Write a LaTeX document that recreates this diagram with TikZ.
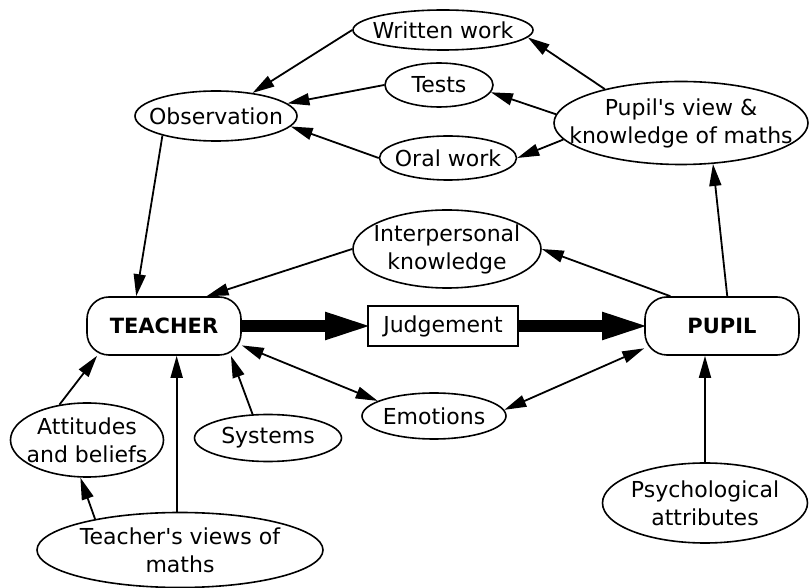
\documentclass[tikz,border=0pt]{standalone}
\usepackage{fontspec}
\setmainfont{DejaVu Sans}
\usepackage{tikz}
\usetikzlibrary{shapes.geometric,arrows.meta}

\begin{document}
\begin{tikzpicture}[x=0.5pt, y=-0.5pt,
  every node/.style={font=\fontsize{11}{14}\selectfont},
  bubble/.style={ellipse, draw, line width=0.8pt, inner xsep=-20pt, inner ysep=-10pt, align=center},
  actor/.style={draw, line width=0.8pt, rounded corners=11pt, minimum width=77pt, minimum height=29pt, font=\fontsize{10.5}{12}\selectfont\bfseries},
  link/.style={-{Triangle[length=11pt, width=6pt]}, line width=0.9pt},
  twoway/.style={{Triangle[length=11pt, width=6pt]}-{Triangle[length=11pt, width=6pt]}, line width=0.9pt},
  biglink/.style={-{Triangle[length=25pt, width=12pt]}, line width=6pt, shorten >=-4pt}]

  \useasboundingbox (0,0) rectangle (810,588);

  % ========== Main row: teacher -- judgement -- pupil ==========
  \node[actor] (teacher) at (164,326) {TEACHER};
  \node[draw, line width=0.8pt, minimum width=75pt, minimum height=20pt] (judge) at (443,326) {Judgement};
  \node[actor] (pupil) at (722,326) {PUPIL};

  % ========== Assessment sources (top) ==========
  \node[bubble, minimum width=90pt, minimum height=20pt] (written) at (443,30) {Written work};
  \node[bubble, minimum width=54pt, minimum height=22pt] (tests) at (439,85) {Tests};
  \node[bubble, minimum width=68.5pt, minimum height=22pt] (oral) at (448,158) {Oral work};
  \node[bubble, minimum width=81pt, minimum height=25pt] (obs) at (216,116) {Observation};
  \node[bubble, minimum width=127pt, minimum height=41.5pt] (pview) at (681,123) {Pupil\textquotesingle s view \&\\knowledge of maths};
  \node[bubble, minimum width=94pt, minimum height=39pt] (interp) at (447,249) {Interpersonal\\knowledge};

  % ========== Influences (bottom) ==========
  \node[bubble, minimum width=72pt, minimum height=23pt] (emot) at (434,416) {Emotions};
  \node[bubble, minimum width=76.5pt, minimum height=37pt] (attit) at (87,440) {Attitudes\\and beliefs};
  \node[bubble, minimum width=73.5pt, minimum height=23.5pt] (systems) at (268,438) {Systems};
  \node[bubble, minimum width=143pt, minimum height=37.5pt] (tviews) at (180,550) {Teacher\textquotesingle s views of\\maths};
  \node[bubble, minimum width=102.5pt, minimum height=40pt] (psych) at (705,503) {Psychological\\attributes};

  % --- judgement arrows ---
  \draw[biglink] (teacher.east) -- (judge.west);
  \draw[biglink] (judge.east) -- (pupil.west);

  % --- into observation ---
  \draw[link] (written.west) -- (obs);
  \draw[link] (tests.west) -- (obs.10);
  \draw[link] (oral.west) -- (obs.-8);
  \draw[link] (obs.200) -- (teacher.133);

  % --- pupil side ---
  \draw[link] (pview.156) -- (written.-5);
  \draw[link] (pview.176) -- (tests.-8);
  \draw[link] (pview.188) -- (oral.east);
  \draw[link] (pupil.80) -- (pview.-52);
  \draw[link] (pupil.150) -- (interp.east);
  \draw[link] (interp.west) -- (teacher.35);

  % --- emotions both ways ---
  \draw[twoway] (teacher.-14) -- (emot.165);
  \draw[twoway] (emot.5) -- (pupil.196);

  % --- teacher influences ---
  \draw[link] (attit.128) -- (teacher.204);
  \draw[link] (tviews.160) -- (attit.-100);
  \draw[link] (tviews.95) -- (tviews.95 |- teacher.south);
  \draw[link] (systems.123) -- (teacher.-24);
  \draw[link] (psych.north) -- (psych.north |- pupil.south);

\end{tikzpicture}
\end{document}
